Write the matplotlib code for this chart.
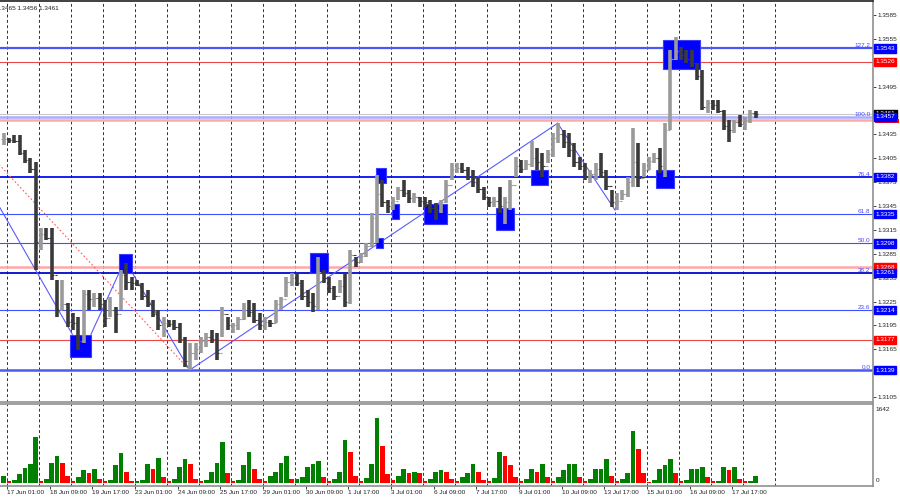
import matplotlib.pyplot as plt
import numpy as np

plt.rcParams['font.family'] = ['Liberation Sans', 'DejaVu Sans']

# GBPUSD H1, grouped in blocks of 4 hours (block 0 ends at 17 Jun 00:00)
high = [1.3437, 1.3431, 1.3434, 1.3434, 1.3415, 1.3405, 1.3400, 1.3318, 1.3318, 1.3318,
        1.3252, 1.3252, 1.3223, 1.3211, 1.3206, 1.3240, 1.3240, 1.3236, 1.3236, 1.3227,
        1.3231, 1.3218, 1.3265, 1.3273, 1.3256, 1.3252, 1.3249, 1.3240, 1.3227, 1.3215,
        1.3206, 1.3202, 1.3202, 1.3198, 1.3181, 1.3173, 1.3173, 1.3181, 1.3185, 1.3189,
        1.3185, 1.3218, 1.3206, 1.3198, 1.3206, 1.3223, 1.3227, 1.3223, 1.3211, 1.3206,
        1.3202, 1.3227, 1.3231, 1.3256, 1.3261, 1.3261, 1.3252, 1.3240, 1.3236, 1.3281,
        1.3265, 1.3256, 1.3244, 1.3252, 1.3261, 1.3290, 1.3281, 1.3286, 1.3299, 1.3336,
        1.3384, 1.3378, 1.3353, 1.3356, 1.3369, 1.3378, 1.3365, 1.3361, 1.3356, 1.3356,
        1.3353, 1.3349, 1.3353, 1.3378, 1.3399, 1.3399, 1.3399, 1.3394, 1.3390, 1.3381,
        1.3369, 1.3356, 1.3356, 1.3369, 1.3356, 1.3378, 1.3407, 1.3403, 1.3403, 1.3427,
        1.3418, 1.3412, 1.3415, 1.3437, 1.3449, 1.3441, 1.3437, 1.3424, 1.3407, 1.3399,
        1.3390, 1.3399, 1.3412, 1.3390, 1.3365, 1.3361, 1.3365, 1.3381, 1.3443, 1.3424,
        1.3399, 1.3407, 1.3412, 1.3418, 1.3449, 1.3541, 1.3557, 1.3545, 1.3541, 1.3541,
        1.3525, 1.3516, 1.3478, 1.3478, 1.3478, 1.3466, 1.3453, 1.3453, 1.3459, 1.3457,
        1.3466, 1.3465]
low = [1.3422, 1.3424, 1.3424, 1.3409, 1.3399, 1.3387, 1.3265, 1.3290, 1.3302, 1.3252,
       1.3206, 1.3215, 1.3193, 1.3189, 1.3164, 1.3173, 1.3215, 1.3218, 1.3215, 1.3193,
       1.3206, 1.3185, 1.3215, 1.3240, 1.3240, 1.3244, 1.3227, 1.3218, 1.3206, 1.3189,
       1.3181, 1.3193, 1.3189, 1.3173, 1.3143, 1.3139, 1.3152, 1.3160, 1.3168, 1.3173,
       1.3152, 1.3181, 1.3189, 1.3185, 1.3189, 1.3202, 1.3206, 1.3198, 1.3189, 1.3189,
       1.3193, 1.3198, 1.3215, 1.3231, 1.3244, 1.3244, 1.3227, 1.3218, 1.3212, 1.3215,
       1.3249, 1.3236, 1.3227, 1.3236, 1.3218, 1.3222, 1.3268, 1.3273, 1.3281, 1.3294,
       1.3299, 1.3344, 1.3336, 1.3340, 1.3353, 1.3356, 1.3349, 1.3349, 1.3344, 1.3344,
       1.3336, 1.3328, 1.3336, 1.3349, 1.3378, 1.3387, 1.3387, 1.3378, 1.3369, 1.3361,
       1.3353, 1.3344, 1.3344, 1.3336, 1.3323, 1.3340, 1.3381, 1.3387, 1.3390, 1.3394,
       1.3390, 1.3381, 1.3399, 1.3407, 1.3424, 1.3418, 1.3407, 1.3394, 1.3390, 1.3378,
       1.3374, 1.3378, 1.3381, 1.3365, 1.3344, 1.3340, 1.3353, 1.3356, 1.3369, 1.3369,
       1.3381, 1.3390, 1.3399, 1.3387, 1.3381, 1.3441, 1.3528, 1.3528, 1.3525, 1.3520,
       1.3503, 1.3466, 1.3462, 1.3466, 1.3462, 1.3441, 1.3425, 1.3437, 1.3444, 1.3441,
       1.3449, 1.3456]
close = [1.3429, 1.3428, 1.3427, 1.3412, 1.3403, 1.3392, 1.3300, 1.3310, 1.3305, 1.3258,
         1.3215, 1.3222, 1.3200, 1.3198, 1.3175, 1.3235, 1.3228, 1.3230, 1.3222, 1.3205,
         1.3215, 1.3210, 1.3258, 1.3250, 1.3248, 1.3246, 1.3232, 1.3222, 1.3210, 1.3195,
         1.3198, 1.3197, 1.3193, 1.3178, 1.3150, 1.3160, 1.3165, 1.3175, 1.3180, 1.3178,
         1.3160, 1.3210, 1.3195, 1.3195, 1.3203, 1.3215, 1.3212, 1.3202, 1.3195, 1.3200,
         1.3198, 1.3222, 1.3228, 1.3250, 1.3255, 1.3248, 1.3232, 1.3225, 1.3220, 1.3262,
         1.3255, 1.3242, 1.3232, 1.3245, 1.3225, 1.3283, 1.3275, 1.3282, 1.3295, 1.3330,
         1.3360, 1.3350, 1.3345, 1.3352, 1.3365, 1.3362, 1.3355, 1.3356, 1.3352, 1.3350,
         1.3342, 1.3340, 1.3350, 1.3372, 1.3392, 1.3393, 1.3390, 1.3382, 1.3375, 1.3366,
         1.3357, 1.3350, 1.3352, 1.3345, 1.3350, 1.3372, 1.3395, 1.3392, 1.3398, 1.3405,
         1.3400, 1.3395, 1.3410, 1.3430, 1.3435, 1.3425, 1.3415, 1.3400, 1.3395, 1.3382,
         1.3385, 1.3392, 1.3388, 1.3370, 1.3350, 1.3352, 1.3360, 1.3375, 1.3400, 1.3380,
         1.3390, 1.3402, 1.3405, 1.3395, 1.3440, 1.3530, 1.3540, 1.3535, 1.3530, 1.3525,
         1.3508, 1.3470, 1.3474, 1.3472, 1.3465, 1.3445, 1.3440, 1.3450, 1.3448, 1.3452,
         1.3462, 1.3461]
volume = [150,
          50, 60, 200, 330, 400, 1000,
          50, 80, 440, 590, 440, 150,
          50, 120, 280, 210, 310, 80,
          50, 60, 380, 650, 240, 50,
          50, 60, 410, 310, 550, 120,
          50, 80, 340, 520, 410, 80,
          40, 60, 240, 440, 880, 210,
          50, 60, 380, 660, 310, 80,
          50, 150, 240, 440, 590, 80,
          80, 120, 340, 410, 480, 120,
          50, 80, 240, 920, 660, 150,
          50, 100, 410, 1400, 810, 190,
          60, 150, 310, 210, 240, 210,
          50, 80, 240, 280, 240, 80,
          50, 120, 210, 410, 240, 60,
          50, 100, 660, 590, 380, 120,
          40, 80, 310, 240, 410, 120,
          50, 120, 280, 410, 410, 120,
          50, 80, 310, 310, 520, 150,
          50, 80, 210, 1130, 730, 210,
          30, 60, 310, 380, 520, 210,
          50, 60, 310, 310, 340, 120,
          40, 50, 340, 280, 340, 80,
          40, 45, 150]

time_labels = ['17 Jun 01:00', '18 Jun 09:00', '19 Jun 17:00', '23 Jun 01:00', '24 Jun 09:00',
               '25 Jun 17:00', '29 Jun 01:00', '30 Jun 09:00', '1 Jul 17:00', '3 Jul 01:00',
               '6 Jul 09:00', '7 Jul 17:00', '9 Jul 01:00', '10 Jul 09:00', '13 Jul 17:00',
               '15 Jul 01:00', '16 Jul 09:00', '17 Jul 17:00']

fib_ratio = ['127.2', '100.0', '76.4', '61.8', '50.0', '38.2', '23.6', '0.0']
fib_price = [1.3543, 1.3457, 1.3382, 1.3335, 1.3298, 1.3261, 1.3214, 1.3139]
fib_color = ['#4a5af0', '#a8aeff', '#0010f0', '#4050ff', '#4050ff', '#0008c8', '#4050ff', '#4a5af0']
fib_width = [1.6, 1.8, 1.3, 0.8, 0.8, 1.3, 0.8, 1.8]

red_price = [1.3526, 1.3453, 1.3268, 1.3177]
red_color = ['#e84848', '#ffa8a8', '#ffa8a8', '#e84848']
red_width = [0.8, 1.8, 1.8, 0.8]
bid = 1.3461

# zigzag of the wave count (hour index, price)
zz_start = [(-6, 1.3345), (63, 1.3184), (94, 1.3261), (137, 1.3139), (413, 1.3449)]
zz_end = [(49, 1.3184), (84, 1.3261), (137, 1.3139), (413, 1.3449), (456, 1.3340)]
fib_diag = [(-39, 1.3457), (137, 1.3139)]

# highlighted pivots: hour from, hour to, price low, price high
box_t0 = [47, 84, 227, 277, 277, 289, 313, 367, 393, 487, 492]
box_t1 = [63, 94, 241, 284, 282, 294, 330, 380, 406, 500, 520]
box_lo = [1.3155, 1.3261, 1.3261, 1.3374, 1.3292, 1.3329, 1.3323, 1.3315, 1.3371, 1.3368, 1.3517]
box_hi = [1.3183, 1.3285, 1.3286, 1.3393, 1.3305, 1.3348, 1.3348, 1.3343, 1.3390, 1.3390, 1.3554]

x = np.arange(len(high)) * 4 - 2.5
opn = [close[0]] + close[:-1]

fig = plt.figure(figsize=(9, 5), dpi=100)
ax = fig.add_axes([0, 0.196, 0.97, 0.802])
axv = fig.add_axes([0, 0.028, 0.97, 0.164])

xmin, xmax = -5.25, 649.5
for a in (ax, axv):
    a.set_xlim(xmin, xmax)
    for g in np.arange(0, 577, 24):
        a.axvline(g, color='#303030', lw=0.7, ls=(0, (3, 2.5)), zorder=1)
    a.spines['left'].set_visible(False)
    for s in ('top', 'right', 'bottom'):
        a.spines[s].set_color('#909090')
        a.spines[s].set_linewidth(1.2)
ax.spines['top'].set_color('#202020')

ax.set_ylim(1.30989, 1.36026)

# horizontal levels
ax.axhline(bid, color='#c8c8c8', lw=0.8, zorder=2)
for p, c, w in zip(red_price, red_color, red_width):
    ax.axhline(p, color=c, lw=w, zorder=2)
for p, c, w, r in zip(fib_price, fib_color, fib_width, fib_ratio):
    ax.axhline(p, color=c, lw=w, zorder=2)
    ax.text(0.997, p, r, transform=ax.get_yaxis_transform(), ha='right', va='bottom',
            fontsize=4.6, color='#4848ff', zorder=6)

ax.plot([fib_diag[0][0], fib_diag[1][0]], [fib_diag[0][1], fib_diag[1][1]],
        color='#ff5a5a', lw=0.8, ls=(0, (1.5, 2)), zorder=2)
for (t0, p0), (t1, p1) in zip(zz_start, zz_end):
    ax.plot([t0, t1], [p0, p1], color='#5a5aff', lw=0.8, zorder=2)

for t0, t1, lo, hi in zip(box_t0, box_t1, box_lo, box_hi):
    ax.add_patch(plt.Rectangle((t0, lo), t1 - t0, hi - lo, facecolor='#0000ff',
                               edgecolor='#3a3aff', lw=0.8, zorder=3))

# price bars
cols = ['#9a9a9a' if c >= o else '#3a3a3a' for c, o in zip(close, opn)]
ax.vlines(x, low, high, colors=cols, lw=2.6, zorder=4)
ax.hlines(close, x, x + 1.8, colors=cols, lw=0.8, zorder=4)
ax.hlines(opn, x - 1.8, x, colors=cols, lw=0.8, zorder=4)

ax.yaxis.tick_right()
yt = np.arange(1.3105, 1.35851, 0.003)
ax.set_yticks(yt)
# 1.3525 and 1.3465 sit under the coloured tags
ax.set_yticklabels(['' if abs(v - 1.3525) < 1e-5 or abs(v - 1.3465) < 1e-5 else '%.4f' % v for v in yt])
ax.tick_params(axis='y', length=2.5, width=0.6, pad=1, labelsize=4.6, colors='#202020')
ax.set_xticks([])

# price tags on the scale
tr = ax.get_yaxis_transform()
ax.add_patch(plt.Rectangle((1.002, 1.3449), 0.028, 0.0006, transform=tr, facecolor='#ff0000',
                           edgecolor='none', clip_on=False, zorder=9))
tags = [(1.3543, '#0000ff'), (1.3526, '#ff0000'), (bid, '#000000'),
        (1.3457, '#0000ff'), (1.3382, '#0000ff'), (1.3335, '#0000ff'), (1.3298, '#0000ff'),
        (1.3268, '#ff0000'), (1.3261, '#0000ff'), (1.3214, '#0000ff'), (1.3177, '#ff0000'),
        (1.3139, '#0000ff')]
for i, (p, c) in enumerate(tags):
    ax.text(1.0025, p, '%.4f' % p, transform=tr, ha='left', va='center',
            fontsize=4.6, color='white', clip_on=False, zorder=10 + i,
            bbox=dict(boxstyle='square,pad=0.25', facecolor=c, edgecolor=c))

# volumes
vcols = ['#008000'] + ['#008000' if volume[k] >= volume[k - 1] else '#ff0000'
                       for k in range(1, len(volume))]
axv.bar(x, volume, width=3.6, color=vcols, linewidth=0, zorder=3)
axv.set_ylim(-66, 1708)
axv.yaxis.tick_right()
axv.set_yticks([0, 1642])
axv.set_yticklabels(['0', '1642'])
axv.tick_params(axis='y', length=0, pad=2, labelsize=4.6, colors='#202020')
for lab, va in zip(axv.get_yticklabels(), ['bottom', 'top']):
    lab.set_va(va)
axv.set_xticks(np.arange(len(time_labels)) * 32)
axv.set_xticklabels(time_labels)
axv.tick_params(axis='x', length=2, width=0.6, pad=1, labelsize=4.6, colors='#202020')
for lab in axv.get_xticklabels():
    lab.set_ha('left')

fig.text(-0.004, 0.984, '1.3465 1.3456 1.3461', fontsize=4.6, color='#202020', va='center')

fig.savefig('out.png', dpi=100)
